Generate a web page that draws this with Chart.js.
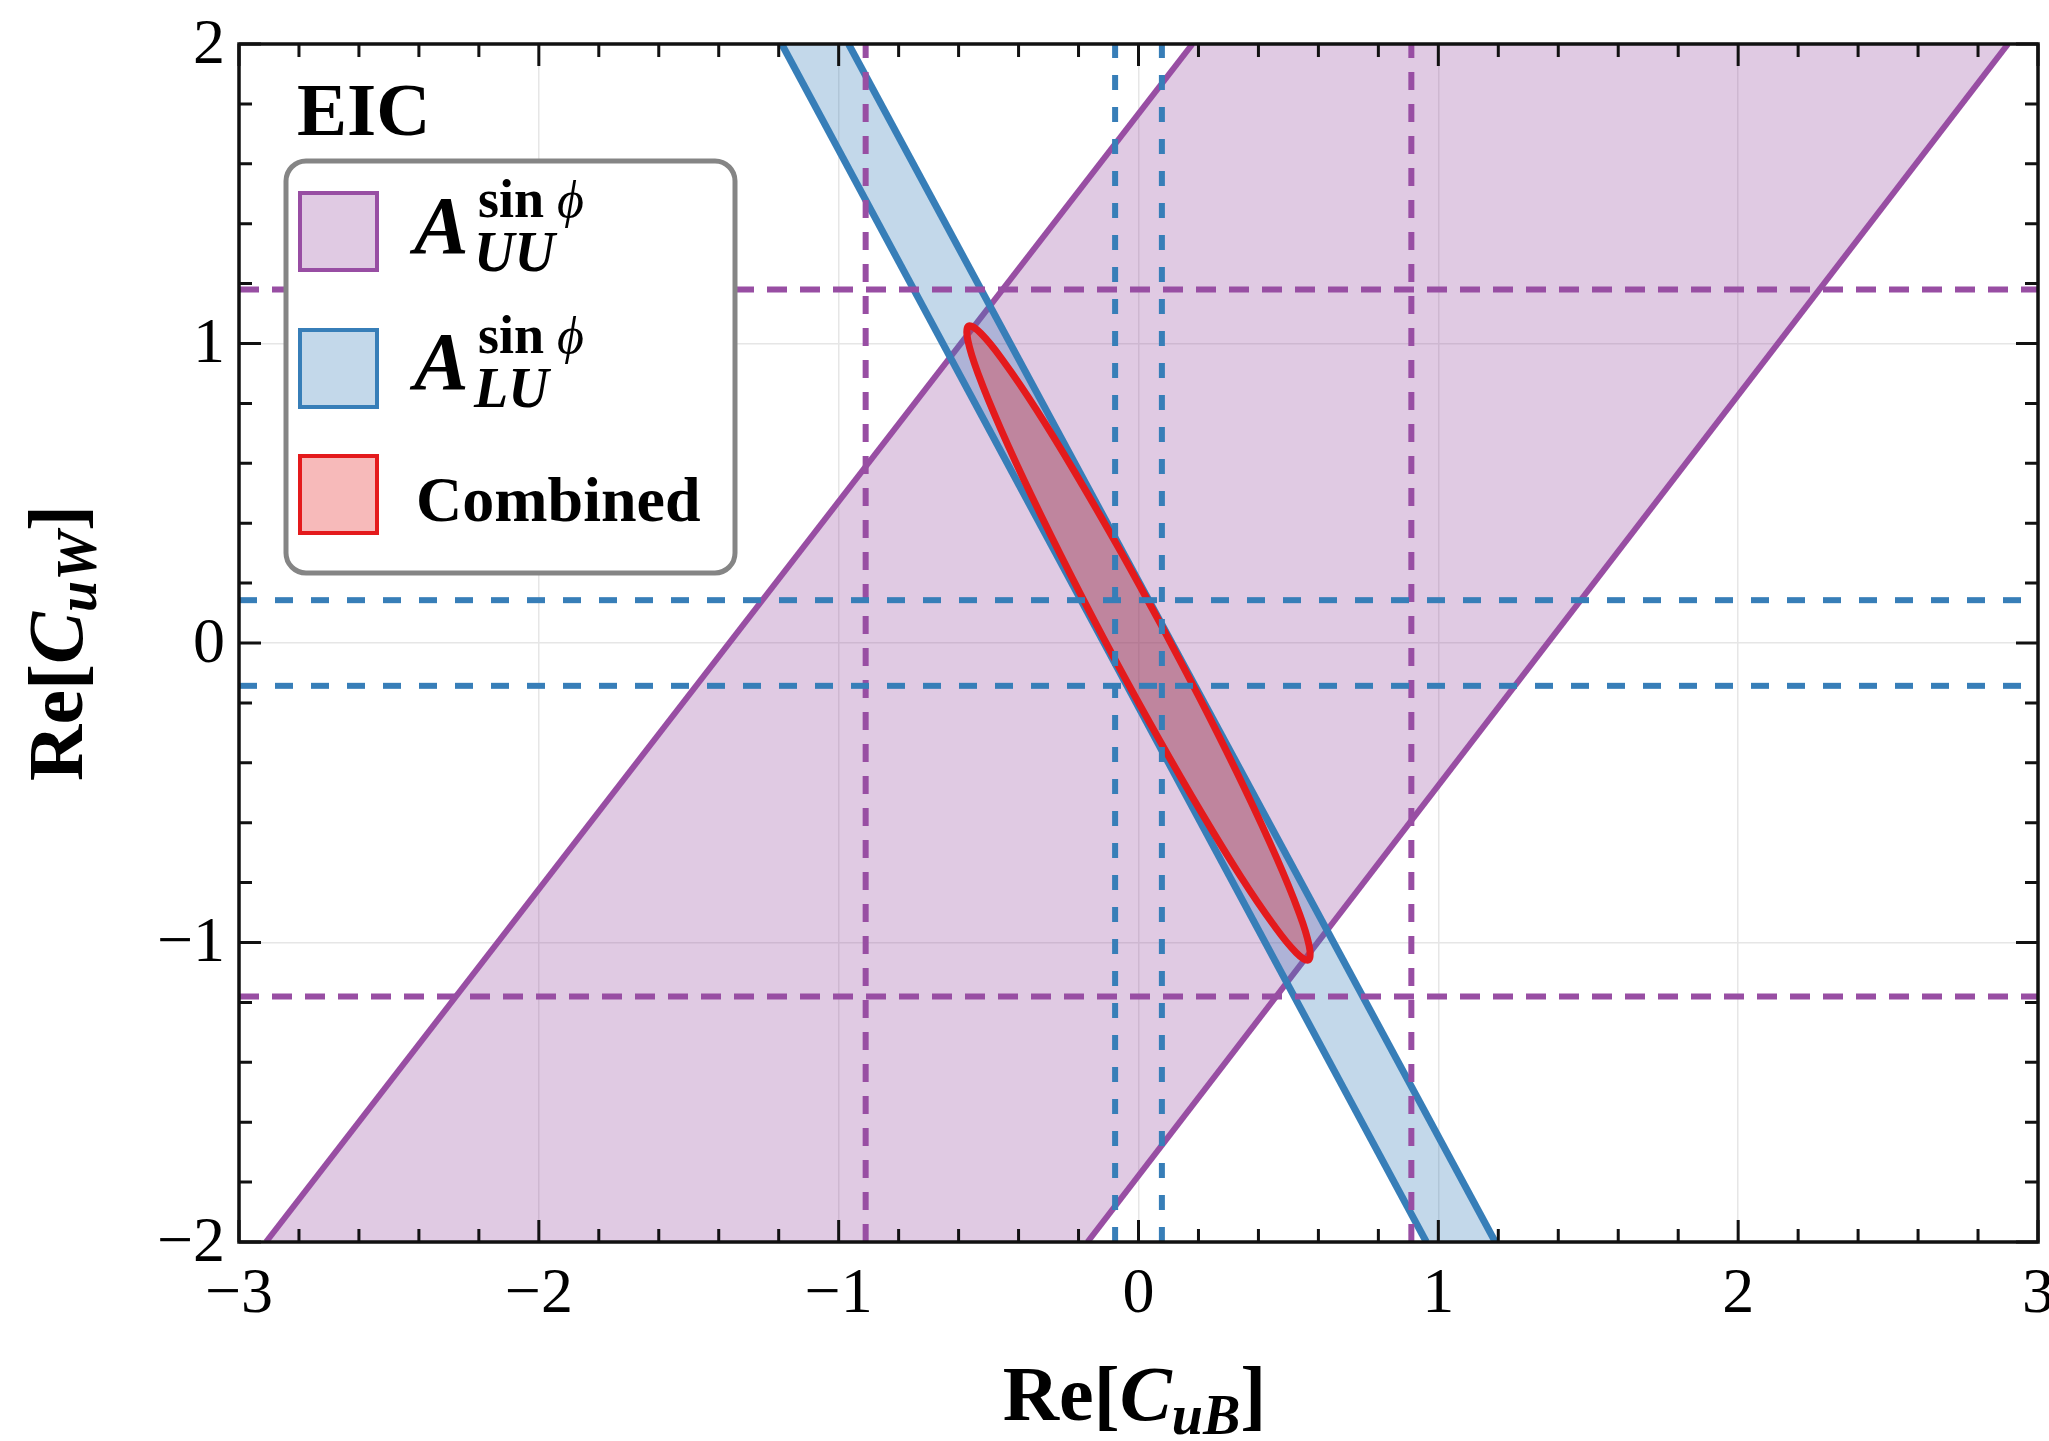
<!DOCTYPE html>
<html>
<head>
<meta charset="utf-8">
<title>EIC constraints on Re[CuB], Re[CuW]</title>
<script src="https://cdn.jsdelivr.net/npm/chart.js@4.4.1/dist/chart.umd.min.js"></script>
<style>
  html, body { margin: 0; padding: 0; background: #fff; }
  canvas { display: block; }
</style>
</head>
<body>
<canvas id="c" width="2049" height="1441"></canvas>
<script>
// ===== data =====
const X_RANGE = [-3, 3];
const Y_RANGE = [-2, 2];
const X_TICK_LABELS = ['−3', '−2', '−1', '0', '1', '2', '3'];
const Y_TICK_LABELS = ['−2', '−1', '0', '1', '2'];

// A_UU^{sin phi} band, corners in order (bottom-left, top-left, top-right, bottom-right)
const UU_BAND_X = [-2.91, 0.18, 2.90, -0.17];
const UU_BAND_Y = [-2, 2, 2, -2];
// A_LU^{sin phi} band (top-left, top-right, bottom-right, bottom-left)
const LU_BAND_X = [-1.19, -0.967, 1.19, 0.96];
const LU_BAND_Y = [2, 2, -2, -2];

// combined contour (closed outline)
const COMB_X = [0.084, -0.066, -0.211, -0.341, -0.449, -0.526, -0.567, -0.569, -0.533, -0.460, -0.356, -0.228,
                -0.084, 0.066, 0.211, 0.341, 0.449, 0.526, 0.567, 0.569, 0.533, 0.460, 0.356, 0.228, 0.084];
const COMB_Y = [0.045, 0.317, 0.568, 0.780, 0.939, 1.034, 1.058, 1.010, 0.894, 0.716, 0.490, 0.231,
                -0.045, -0.317, -0.568, -0.780, -0.939, -1.034, -1.058, -1.010, -0.894, -0.716, -0.490, -0.231, 0.045];

// one-parameter bounds (dashed)
const UU_X_BOUNDS = [-0.91, 0.91];
const UU_Y_BOUNDS = [-1.18, 1.18];
const LU_X_BOUNDS = [-0.078, 0.078];
const LU_Y_BOUNDS = [-0.143, 0.143];

const MINOR_STEP = 0.2;

// ===== styles =====
const PURPLE = '#984ea3', BLUE = '#377eb8', RED = '#e41a1c';
const PURPLE_FILL = 'rgba(152,78,163,0.30)';
const BLUE_FILL = 'rgba(55,126,184,0.30)';
const RED_FILL = 'rgba(228,26,28,0.30)';
const SERIF = '"Liberation Serif", "DejaVu Serif", serif';

const pts = (xs, ys) => xs.map((x, i) => ({ x, y: ys[i] }));
const closed = (xs, ys) => { const p = pts(xs, ys); p.push(p[0]); return p; };

function shape(xs, ys, color) {
  return { data: closed(xs, ys), fill: 'shape', backgroundColor: color, borderWidth: 0, pointRadius: 0 };
}
function edge(xs, ys, color, width) {
  return { data: pts(xs, ys), fill: false, borderColor: color, borderWidth: width, pointRadius: 0 };
}
function dashedV(x, color, dash) {
  return { data: pts([x, x], Y_RANGE), fill: false, borderColor: color, borderWidth: 6,
           borderDash: dash, borderCapStyle: 'butt', pointRadius: 0 };
}
function dashedH(y, color, dash) {
  return { data: pts(X_RANGE, [y, y]), fill: false, borderColor: color, borderWidth: 6,
           borderDash: dash, borderCapStyle: 'butt', pointRadius: 0 };
}

// bottom → top
const layers = [
  shape(UU_BAND_X, UU_BAND_Y, PURPLE_FILL),
  edge([UU_BAND_X[0], UU_BAND_X[1]], [UU_BAND_Y[0], UU_BAND_Y[1]], PURPLE, 6),
  edge([UU_BAND_X[3], UU_BAND_X[2]], [UU_BAND_Y[3], UU_BAND_Y[2]], PURPLE, 6),
  shape(LU_BAND_X, LU_BAND_Y, BLUE_FILL),
  edge([LU_BAND_X[0], LU_BAND_X[3]], [LU_BAND_Y[0], LU_BAND_Y[3]], BLUE, 7),
  edge([LU_BAND_X[1], LU_BAND_X[2]], [LU_BAND_Y[1], LU_BAND_Y[2]], BLUE, 7),
  { data: pts(COMB_X, COMB_Y), fill: 'shape', backgroundColor: RED_FILL, borderColor: RED,
    borderWidth: 7, tension: 0.4, borderJoinStyle: 'round', pointRadius: 0 },
  ...UU_Y_BOUNDS.map(y => dashedH(y, PURPLE, [20, 13])),
  ...UU_X_BOUNDS.map(x => dashedV(x, PURPLE, [18, 14])),
  ...LU_Y_BOUNDS.map(y => dashedH(y, BLUE, [18, 18])),
  ...LU_X_BOUNDS.map(x => dashedV(x, BLUE, [15, 17])),
];
layers.forEach((d, i) => { d.order = layers.length - i; d.clip = 0; });

// ===== text helpers =====
function runsWidth(ctx, runs) {
  return runs.reduce((w, r) => { ctx.font = r.font; return w + ctx.measureText(r.text).width; }, 0);
}
function drawRuns(ctx, runs, x, y) {
  runs.forEach(r => {
    ctx.font = r.font;
    ctx.fillText(r.text, x, y + (r.dy || 0));
    x += ctx.measureText(r.text).width;
  });
}
const titleRuns = sub => [
  { text: 'Re[', font: `bold 78px ${SERIF}` },
  { text: 'C', font: `bold italic 78px ${SERIF}` },
  { text: sub, font: `bold italic 56px ${SERIF}`, dy: 14 },
  { text: ']', font: `bold 78px ${SERIF}` },
];

function minorValues(min, max) {
  const out = [];
  for (let v = min; v <= max + 1e-9; v += MINOR_STEP) {
    const r = Math.round(v * 10) / 10;
    if (Math.abs(r - Math.round(r)) > 1e-6) out.push(r);
  }
  return out;
}

// frame, inward ticks, labels, titles and legend
const decor = {
  id: 'decor',
  afterDatasetsDraw(chart) {
    const { ctx, chartArea: a, scales: { x, y } } = chart;
    ctx.save();
    ctx.strokeStyle = '#111';
    ctx.lineWidth = 3;
    ctx.lineCap = 'butt';
    const tickX = (v, len) => {
      const px = x.getPixelForValue(v);
      ctx.beginPath();
      ctx.moveTo(px, a.bottom); ctx.lineTo(px, a.bottom - len);
      ctx.moveTo(px, a.top); ctx.lineTo(px, a.top + len);
      ctx.stroke();
    };
    const tickY = (v, len) => {
      const py = y.getPixelForValue(v);
      ctx.beginPath();
      ctx.moveTo(a.left, py); ctx.lineTo(a.left + len, py);
      ctx.moveTo(a.right, py); ctx.lineTo(a.right - len, py);
      ctx.stroke();
    };
    x.ticks.forEach(t => tickX(t.value, 22));
    y.ticks.forEach(t => tickY(t.value, 22));
    minorValues(X_RANGE[0], X_RANGE[1]).forEach(v => tickX(v, 13));
    minorValues(Y_RANGE[0], Y_RANGE[1]).forEach(v => tickY(v, 13));
    ctx.lineWidth = 3.5;
    ctx.strokeRect(a.left, a.top, a.right - a.left, a.bottom - a.top);

    // tick labels
    ctx.fillStyle = '#000';
    ctx.font = `64px ${SERIF}`;
    ctx.textAlign = 'center';
    ctx.textBaseline = 'alphabetic';
    x.ticks.forEach((t, i) => ctx.fillText(X_TICK_LABELS[i], x.getPixelForValue(t.value), 1312));
    ctx.textAlign = 'right';
    ctx.textBaseline = 'middle';
    y.ticks.forEach((t, i) => ctx.fillText(Y_TICK_LABELS[i], 225, y.getPixelForValue(t.value) + 2));

    // axis titles
    ctx.textAlign = 'left';
    ctx.textBaseline = 'alphabetic';
    const xr = titleRuns('uB');
    drawRuns(ctx, xr, x.getPixelForValue(0) - runsWidth(ctx, xr) / 2 - 4, 1420);
    const yr = titleRuns('uW');
    ctx.save();
    ctx.translate(82, y.getPixelForValue(0));
    ctx.rotate(-Math.PI / 2);
    drawRuns(ctx, yr, -runsWidth(ctx, yr) / 2, 0);
    ctx.restore();

    // EIC tag
    ctx.font = `bold 75px ${SERIF}`;
    ctx.fillText('EIC', 297, 135);

    // legend box
    ctx.beginPath();
    ctx.roundRect(286, 161, 449, 412, 20);
    ctx.fillStyle = '#fff';
    ctx.fill();
    ctx.strokeStyle = '#858585';
    ctx.lineWidth = 5;
    ctx.stroke();

    const swatch = (top, fill, line) => {
      ctx.fillStyle = '#fff';
      ctx.fillRect(300, top, 77, 77);
      ctx.fillStyle = fill;
      ctx.fillRect(300, top, 77, 77);
      ctx.strokeStyle = line;
      ctx.lineWidth = 4;
      ctx.strokeRect(300, top, 77, 77);
    };
    swatch(193, PURPLE_FILL, PURPLE);
    swatch(330, BLUE_FILL, BLUE);
    swatch(456, RED_FILL, RED);

    ctx.fillStyle = '#000';
    const asym = (base, sub) => {
      ctx.font = `bold italic 82px ${SERIF}`;
      ctx.fillText('A', 414, base);
      drawRuns(ctx, [
        { text: 'sin', font: `bold 54px ${SERIF}` },
        { text: ' ϕ', font: `italic 52px ${SERIF}` },
      ], 478, base - 36);
      ctx.font = `bold italic 56px ${SERIF}`;
      ctx.fillText(sub, 474, base + 18);
    };
    asym(253, 'UU');
    asym(389, 'LU');
    ctx.font = `bold 64px ${SERIF}`;
    ctx.fillText('Combined', 416, 521);
    ctx.restore();
  }
};

new Chart(document.getElementById('c'), {
  type: 'line',
  data: { datasets: layers },
  options: {
    responsive: false,
    animation: false,
    devicePixelRatio: 1,
    layout: { padding: { left: 0, right: 11, top: 44, bottom: 0 } },
    plugins: { legend: { display: false }, tooltip: { enabled: false } },
    elements: { line: { capBezierPoints: false } },
    scales: {
      x: {
        type: 'linear', min: X_RANGE[0], max: X_RANGE[1],
        ticks: { stepSize: 1, display: false },
        grid: { color: '#e6e6e6', lineWidth: 1.5, drawTicks: false },
        border: { display: false },
        afterFit: s => { s.height = 199; },
      },
      y: {
        type: 'linear', min: Y_RANGE[0], max: Y_RANGE[1],
        ticks: { stepSize: 1, display: false },
        grid: { color: '#e6e6e6', lineWidth: 1.5, drawTicks: false },
        border: { display: false },
        afterFit: s => { s.width = 239; },
      },
    },
  },
  plugins: [decor],
});
</script>
</body>
</html>
